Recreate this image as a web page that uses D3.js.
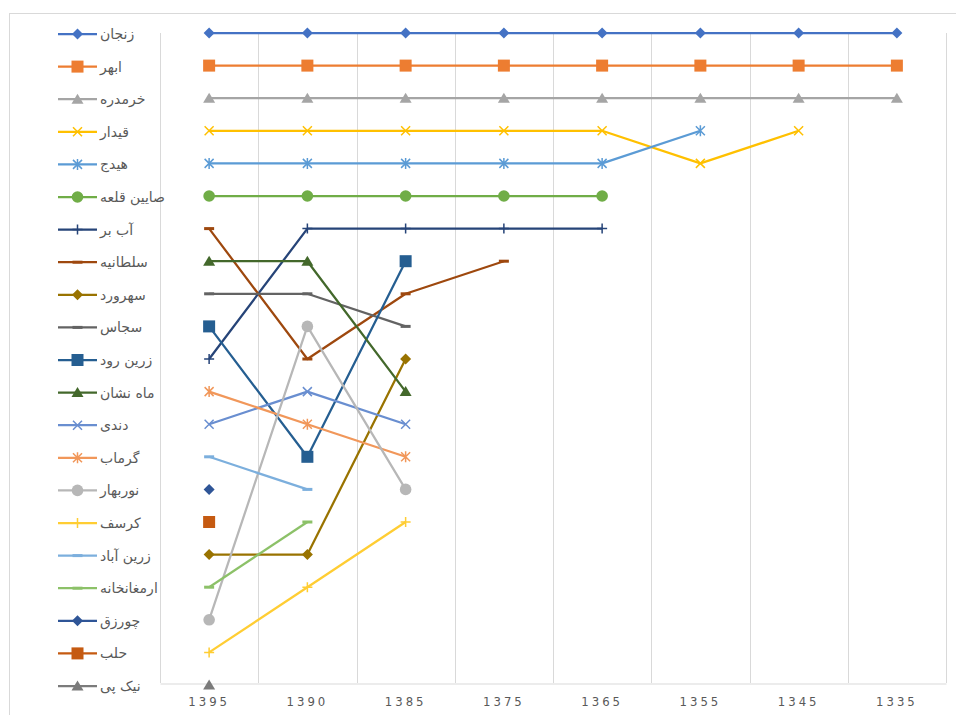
<!DOCTYPE html>
<html>
<head>
<meta charset="utf-8">
<script src="https://cdn.jsdelivr.net/npm/d3@7"></script>
<style>
  html, body { margin: 0; padding: 0; background: #ffffff; }
  svg { display: block; }
</style>
</head>
<body>
<svg id="chart" width="956" height="715"></svg>
<script>
// ---------- data ----------
const years = ["1395", "1390", "1385", "1375", "1365", "1355", "1345", "1335"];

const cities = [
  "زنجان", "ابهر", "خرمدره", "قیدار", "هیدج", "صایین قلعه", "آب بر",
  "سلطانیه", "سهرورد", "سجاس", "زرین رود", "ماه نشان", "دندی", "گرماب",
  "نوربهار", "کرسف", "زرین آباد", "ارمغانخانه", "چورزق", "حلب", "نیک پی"
];

// rank of each city per year (null = not a city yet)
const ranks = [
  [1, 1, 1, 1, 1, 1, 1, 1],
  [2, 2, 2, 2, 2, 2, 2, 2],
  [3, 3, 3, 3, 3, 3, 3, 3],
  [4, 4, 4, 4, 4, 5, 4, null],
  [5, 5, 5, 5, 5, 4, null, null],
  [6, 6, 6, 6, 6, null, null, null],
  [11, 7, 7, 7, 7, null, null, null],
  [7, 11, 9, 8, null, null, null, null],
  [17, 17, 11, null, null, null, null, null],
  [9, 9, 10, null, null, null, null, null],
  [10, 14, 8, null, null, null, null, null],
  [8, 8, 12, null, null, null, null, null],
  [13, 12, 13, null, null, null, null, null],
  [12, 13, 14, null, null, null, null, null],
  [19, 10, 15, null, null, null, null, null],
  [20, 18, 16, null, null, null, null, null],
  [14, 15, null, null, null, null, null, null],
  [18, 16, null, null, null, null, null, null],
  [15, null, null, null, null, null, null, null],
  [16, null, null, null, null, null, null, null],
  [21, null, null, null, null, null, null, null]
];

const colors = [
  "#4472C4", "#ED7D31", "#A5A5A5", "#FFC000", "#5B9BD5", "#70AD47", "#264478",
  "#9E480E", "#997300", "#636363", "#255E91", "#43682B", "#698ED0", "#F1975A",
  "#B7B7B7", "#FFCD33", "#7CAFDD", "#8CC168", "#2F5597", "#C55A11", "#7B7B7B"
];

const markers = [
  "diamond", "square", "triangle", "x", "asterisk", "circle", "plus",
  "dash", "diamond", "dash", "square", "triangle", "x", "asterisk",
  "circle", "plus", "dash", "dash", "diamond", "square", "triangle"
];

// ---------- layout ----------
const svg = d3.select("#chart");
const plotLeft = 160, plotRight = 946, plotTop = 33, plotBottom = 685;

const x = d3.scaleBand().domain(years).range([plotLeft, plotRight]).padding(0);
const xc = d => x(d) + x.bandwidth() / 2;
const y = d3.scaleLinear().domain([1, 21]).range([plotTop, plotBottom]);

// chart frame
svg.append("rect")
  .attr("x", 9.5).attr("y", 13.5)
  .attr("width", 980).attr("height", 740)
  .attr("fill", "none").attr("stroke", "#D9D9D9").attr("stroke-width", 1);

// vertical gridlines at category boundaries
const edges = years.map(d => x(d)).concat([x(years[years.length - 1]) + x.bandwidth()]);
svg.append("g").selectAll("line").data(edges).join("line")
  .attr("x1", d => Math.round(d) + 0.5).attr("x2", d => Math.round(d) + 0.5)
  .attr("y1", plotTop).attr("y2", y(21) - 2)
  .attr("stroke", "#D9D9D9").attr("stroke-width", 1);

// x axis
const axisG = svg.append("g")
  .attr("transform", `translate(0,${Math.round(y(21) - 2) + 0.5})`)
  .call(d3.axisBottom(x).tickSize(0).tickPadding(13));
axisG.select(".domain").attr("stroke", "#D9D9D9");
axisG.selectAll("text")
  .attr("fill", "#595959")
  .style("font-family", "'DejaVu Sans Condensed', 'DejaVu Sans', sans-serif")
  .style("font-size", "13px")
  .style("letter-spacing", "3px");

// ---------- markers ----------
function drawMarker(g, type, color) {
  const s = 5.5;
  switch (type) {
    case "diamond":
      g.append("path").attr("d", `M0,${-s}L${s},0L0,${s}L${-s},0Z`).attr("fill", color);
      break;
    case "square":
      g.append("rect").attr("x", -6).attr("y", -6).attr("width", 12).attr("height", 12).attr("fill", color);
      break;
    case "triangle":
      g.append("path").attr("d", "M0,-5.5L6,4.5L-6,4.5Z").attr("fill", color);
      break;
    case "circle":
      g.append("circle").attr("r", 5.8).attr("fill", color);
      break;
    case "x":
      g.append("path").attr("d", "M-4.5,-4.5L4.5,4.5M4.5,-4.5L-4.5,4.5")
        .attr("stroke", color).attr("stroke-width", 1.5).attr("fill", "none");
      break;
    case "asterisk":
      g.append("path").attr("d", "M-4.5,-4.5L4.5,4.5M4.5,-4.5L-4.5,4.5M0,-5.5L0,5.5")
        .attr("stroke", color).attr("stroke-width", 1.5).attr("fill", "none");
      break;
    case "plus":
      g.append("path").attr("d", "M-5,0L5,0M0,-5L0,5")
        .attr("stroke", color).attr("stroke-width", 1.5).attr("fill", "none");
      break;
    case "dash":
      g.append("rect").attr("x", -5).attr("y", -1.5).attr("width", 10).attr("height", 3).attr("fill", color);
      break;
  }
}

// ---------- series ----------
const line = d3.line()
  .defined(d => d.r != null)
  .x(d => xc(d.year))
  .y(d => y(d.r));

const seriesG = svg.append("g");
cities.forEach((name, i) => {
  const pts = years.map((yr, j) => ({ year: yr, r: ranks[i][j] }));
  const g = seriesG.append("g");
  g.append("path").datum(pts)
    .attr("d", line)
    .attr("fill", "none")
    .attr("stroke", colors[i])
    .attr("stroke-width", 2.25)
    .attr("stroke-linejoin", "round");
  pts.filter(d => d.r != null).forEach(d => {
    const mg = g.append("g").attr("transform", `translate(${xc(d.year)},${y(d.r)})`);
    drawMarker(mg, markers[i], colors[i]);
  });
});

// ---------- legend ----------
const legend = svg.append("g");
cities.forEach((name, i) => {
  const ly = y(i + 1) + 1;
  const g = legend.append("g").attr("transform", `translate(0,${ly})`);
  g.append("line").attr("x1", 58).attr("x2", 97).attr("y1", 0).attr("y2", 0)
    .attr("stroke", colors[i]).attr("stroke-width", 2.25);
  const mg = g.append("g").attr("transform", "translate(77.5,0)");
  drawMarker(mg, markers[i], colors[i]);
  g.append("text")
    .attr("x", 100).attr("y", 0).attr("dy", "0.35em")
    .attr("fill", "#595959")
    .style("font-family", "'DejaVu Sans', sans-serif")
    .style("font-size", "14px")
    .text(name);
});
</script>
</body>
</html>
